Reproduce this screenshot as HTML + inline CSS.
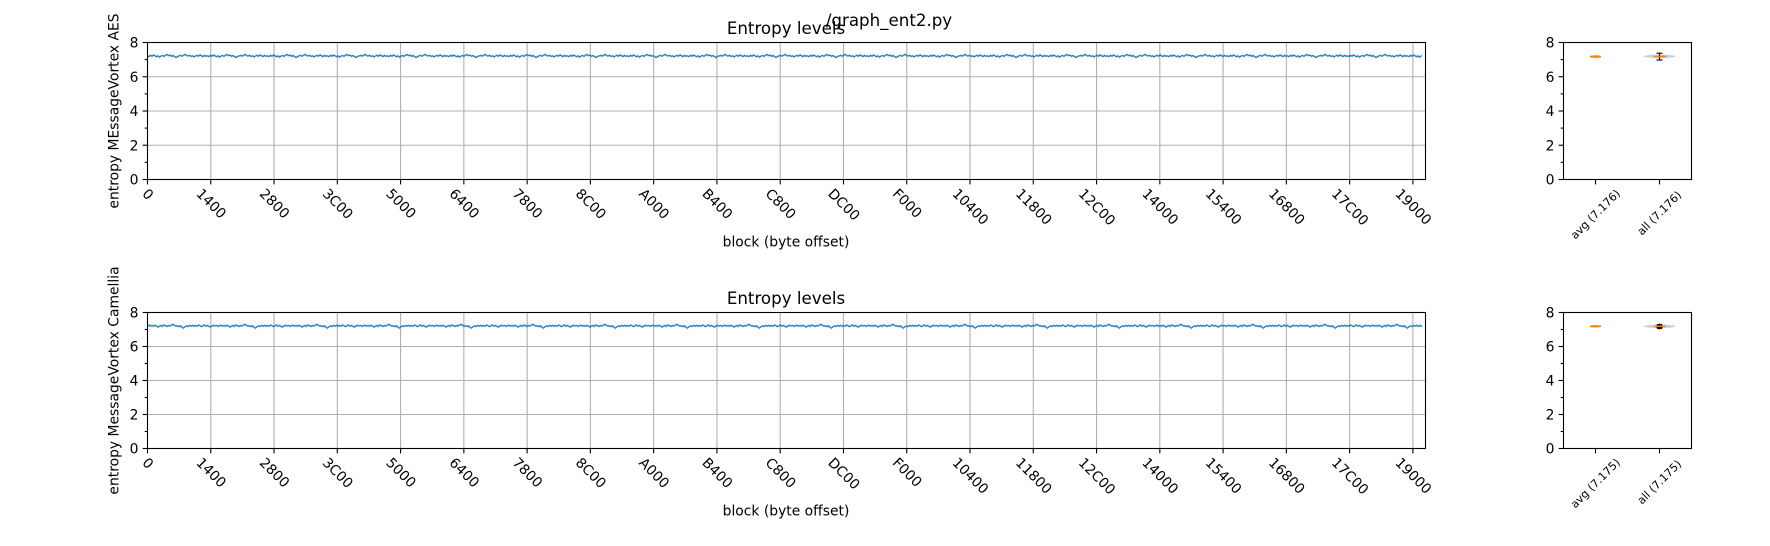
<!DOCTYPE html>
<html>
<head>
<meta charset="utf-8">
<style>
html,body{margin:0;padding:0;background:#fff;}
svg{display:block;}
text{font-family:"DejaVu Sans","Liberation Sans",sans-serif;fill:#000;}
.t{font-size:13.89px;}
.s{font-size:11.11px;}
.h{font-size:16.67px;}
.grid{stroke:#b0b0b0;stroke-width:1.1;}
.sp{stroke:#000;stroke-width:1.1;fill:none;}
.tk{stroke:#000;stroke-width:1.1;}
</style>
</head>
<body>
<svg width="1770" height="546" viewBox="0 0 1770 546" xmlns="http://www.w3.org/2000/svg">
<defs>
  <pattern id="n1" patternUnits="userSpaceOnUse" x="147.5" y="47.8" width="60" height="16">
    <path d="M-1.5,8.5 L0,8 L1.5,8.8 L3,7.6 L4.5,8.4 L6,7.2 L7.5,8 L9,8.9 L10.5,8.1 L12,9.4 L13.5,8.3 L15,7.7 L16.5,8.6 L18,7.4 L19.5,6.8 L21,7.9 L22.5,7.3 L24,8.5 L25.5,7.8 L27,8.7 L28.5,9.8 L30,8.6 L31.5,8.2 L33,7.5 L34.5,8.4 L36,7.6 L37.5,6.6 L39,7.7 L40.5,8.3 L42,7.4 L43.5,8.6 L45,8 L46.5,9.1 L48,8.2 L49.5,7.5 L51,8.4 L52.5,7.1 L54,7.9 L55.5,8.8 L57,7.6 L58.5,8.5 L60,8 L61.5,8.8" fill="none" stroke="#1f77b4" stroke-width="1.35"/>
  </pattern>
  <pattern id="n2" patternUnits="userSpaceOnUse" x="147.5" y="47.8" width="72" height="16">
    <path d="M-1.5,7.4 L0,8 L1.5,7.3 L3,8.5 L4.5,7.7 L6,8.6 L7.5,7.5 L9,8.2 L10.5,9.3 L12,8.4 L13.5,7.6 L15,8.5 L16.5,7.2 L18,7.9 L19.5,8.7 L21,7.8 L22.5,8.3 L24,7.1 L25.5,6.5 L27,7.6 L28.5,8.4 L30,7.9 L31.5,8.8 L33,8 L34.5,9.6 L36,10.2 L37.5,8.9 L39,8.1 L40.5,8.7 L42,7.6 L43.5,8.3 L45,7.4 L46.5,8.6 L48,7.7 L49.5,8.5 L51,7.3 L52.5,7.9 L54,8.8 L55.5,8 L57,7.2 L58.5,8.4 L60,7.7 L61.5,8.6 L63,9.2 L64.5,8.1 L66,7.5 L67.5,8.3 L69,7.6 L70.5,8.5 L72,8 L73.5,7.3" fill="none" stroke="#1f77b4" stroke-width="1.35"/>
  </pattern>
</defs>

<!-- suptitle -->
<text class="h" x="889" y="26" text-anchor="middle">/graph_ent2.py</text>

<!-- ===================== TOP ROW ===================== -->
<g id="top">
  <text class="h" x="786" y="34" text-anchor="middle">Entropy levels</text>
  <g class="grid">
    <line x1="147.5" y1="76.75" x2="1425.5" y2="76.75"/>
    <line x1="147.5" y1="111" x2="1425.5" y2="111"/>
    <line x1="147.5" y1="145.25" x2="1425.5" y2="145.25"/>
    <line x1="210.77" y1="42.5" x2="210.77" y2="179.5"/>
    <line x1="274.04" y1="42.5" x2="274.04" y2="179.5"/>
    <line x1="337.31" y1="42.5" x2="337.31" y2="179.5"/>
    <line x1="400.58" y1="42.5" x2="400.58" y2="179.5"/>
    <line x1="463.85" y1="42.5" x2="463.85" y2="179.5"/>
    <line x1="527.12" y1="42.5" x2="527.12" y2="179.5"/>
    <line x1="590.39" y1="42.5" x2="590.39" y2="179.5"/>
    <line x1="653.66" y1="42.5" x2="653.66" y2="179.5"/>
    <line x1="716.93" y1="42.5" x2="716.93" y2="179.5"/>
    <line x1="780.2" y1="42.5" x2="780.2" y2="179.5"/>
    <line x1="843.47" y1="42.5" x2="843.47" y2="179.5"/>
    <line x1="906.74" y1="42.5" x2="906.74" y2="179.5"/>
    <line x1="970.01" y1="42.5" x2="970.01" y2="179.5"/>
    <line x1="1033.28" y1="42.5" x2="1033.28" y2="179.5"/>
    <line x1="1096.55" y1="42.5" x2="1096.55" y2="179.5"/>
    <line x1="1159.82" y1="42.5" x2="1159.82" y2="179.5"/>
    <line x1="1223.09" y1="42.5" x2="1223.09" y2="179.5"/>
    <line x1="1286.36" y1="42.5" x2="1286.36" y2="179.5"/>
    <line x1="1349.63" y1="42.5" x2="1349.63" y2="179.5"/>
    <line x1="1412.9" y1="42.5" x2="1412.9" y2="179.5"/>
  </g>
  <rect x="147.5" y="47.8" width="1274.5" height="16" fill="url(#n1)"/>
  <rect class="sp" x="147.5" y="42.5" width="1278" height="137"/>
  <g class="tk">
    <line x1="142.6" y1="42.5" x2="147.5" y2="42.5"/>
    <line x1="142.6" y1="76.75" x2="147.5" y2="76.75"/>
    <line x1="142.6" y1="111" x2="147.5" y2="111"/>
    <line x1="142.6" y1="145.25" x2="147.5" y2="145.25"/>
    <line x1="142.6" y1="179.5" x2="147.5" y2="179.5"/>
    <line x1="144.7" y1="59.6" x2="147.5" y2="59.6"/>
    <line x1="144.7" y1="93.9" x2="147.5" y2="93.9"/>
    <line x1="144.7" y1="128.1" x2="147.5" y2="128.1"/>
    <line x1="144.7" y1="162.4" x2="147.5" y2="162.4"/>
  </g>
  <g class="t" text-anchor="end" dominant-baseline="central">
    <text x="138.5" y="43.6">8</text>
    <text x="138.5" y="77.85">6</text>
    <text x="138.5" y="112.1">4</text>
    <text x="138.5" y="146.35">2</text>
    <text x="138.5" y="180.6">0</text>
  </g>
  <g class="tk">
    <line x1="147.5" y1="179.5" x2="147.5" y2="184.4"/>
    <line x1="210.77" y1="179.5" x2="210.77" y2="184.4"/>
    <line x1="274.04" y1="179.5" x2="274.04" y2="184.4"/>
    <line x1="337.31" y1="179.5" x2="337.31" y2="184.4"/>
    <line x1="400.58" y1="179.5" x2="400.58" y2="184.4"/>
    <line x1="463.85" y1="179.5" x2="463.85" y2="184.4"/>
    <line x1="527.12" y1="179.5" x2="527.12" y2="184.4"/>
    <line x1="590.39" y1="179.5" x2="590.39" y2="184.4"/>
    <line x1="653.66" y1="179.5" x2="653.66" y2="184.4"/>
    <line x1="716.93" y1="179.5" x2="716.93" y2="184.4"/>
    <line x1="780.2" y1="179.5" x2="780.2" y2="184.4"/>
    <line x1="843.47" y1="179.5" x2="843.47" y2="184.4"/>
    <line x1="906.74" y1="179.5" x2="906.74" y2="184.4"/>
    <line x1="970.01" y1="179.5" x2="970.01" y2="184.4"/>
    <line x1="1033.28" y1="179.5" x2="1033.28" y2="184.4"/>
    <line x1="1096.55" y1="179.5" x2="1096.55" y2="184.4"/>
    <line x1="1159.82" y1="179.5" x2="1159.82" y2="184.4"/>
    <line x1="1223.09" y1="179.5" x2="1223.09" y2="184.4"/>
    <line x1="1286.36" y1="179.5" x2="1286.36" y2="184.4"/>
    <line x1="1349.63" y1="179.5" x2="1349.63" y2="184.4"/>
    <line x1="1412.9" y1="179.5" x2="1412.9" y2="184.4"/>
  </g>
  <g class="t" text-anchor="middle" dominant-baseline="central">
    <text transform="translate(147.5,194.8) rotate(45)">0</text>
    <text transform="translate(210.77,204.1) rotate(45)">1400</text>
    <text transform="translate(274.04,204.1) rotate(45)">2800</text>
    <text transform="translate(337.31,204.4) rotate(45)">3C00</text>
    <text transform="translate(400.58,204.1) rotate(45)">5000</text>
    <text transform="translate(463.85,204.1) rotate(45)">6400</text>
    <text transform="translate(527.12,204.1) rotate(45)">7800</text>
    <text transform="translate(590.39,204.4) rotate(45)">8C00</text>
    <text transform="translate(653.66,204.4) rotate(45)">A000</text>
    <text transform="translate(716.93,204.4) rotate(45)">B400</text>
    <text transform="translate(780.2,204.4) rotate(45)">C800</text>
    <text transform="translate(843.47,205.1) rotate(45)">DC00</text>
    <text transform="translate(906.74,203.8) rotate(45)">F000</text>
    <text transform="translate(970.01,207.3) rotate(45)">10400</text>
    <text transform="translate(1033.28,207.3) rotate(45)">11800</text>
    <text transform="translate(1096.55,207.6) rotate(45)">12C00</text>
    <text transform="translate(1159.82,207.3) rotate(45)">14000</text>
    <text transform="translate(1223.09,207.3) rotate(45)">15400</text>
    <text transform="translate(1286.36,207.3) rotate(45)">16800</text>
    <text transform="translate(1349.63,207.6) rotate(45)">17C00</text>
    <text transform="translate(1412.9,207.3) rotate(45)">19000</text>
  </g>
  <text class="t" x="786" y="246.5" text-anchor="middle">block (byte offset)</text>
  <text class="t" transform="translate(118.5,111) rotate(-90)" text-anchor="middle">entropy MEssageVortex AES</text>

  <rect class="sp" x="1563.5" y="42.5" width="128" height="137"/>
  <g class="tk">
    <line x1="1558.6" y1="42.5" x2="1563.5" y2="42.5"/>
    <line x1="1558.6" y1="76.75" x2="1563.5" y2="76.75"/>
    <line x1="1558.6" y1="111" x2="1563.5" y2="111"/>
    <line x1="1558.6" y1="145.25" x2="1563.5" y2="145.25"/>
    <line x1="1558.6" y1="179.5" x2="1563.5" y2="179.5"/>
    <line x1="1560.7" y1="59.6" x2="1563.5" y2="59.6"/>
    <line x1="1560.7" y1="93.9" x2="1563.5" y2="93.9"/>
    <line x1="1560.7" y1="128.1" x2="1563.5" y2="128.1"/>
    <line x1="1560.7" y1="162.4" x2="1563.5" y2="162.4"/>
    <line x1="1595.5" y1="179.5" x2="1595.5" y2="184.4"/>
    <line x1="1659.5" y1="179.5" x2="1659.5" y2="184.4"/>
  </g>
  <g class="t" text-anchor="end" dominant-baseline="central">
    <text x="1554.5" y="43.6">8</text>
    <text x="1554.5" y="77.85">6</text>
    <text x="1554.5" y="112.1">4</text>
    <text x="1554.5" y="146.35">2</text>
    <text x="1554.5" y="180.6">0</text>
  </g>
  <g class="s" text-anchor="middle" dominant-baseline="central">
    <text transform="translate(1595.5,214.5) rotate(-45)">avg (7.176)</text>
    <text transform="translate(1659.5,213.3) rotate(-45)">all (7.176)</text>
  </g>
  <ellipse cx="1595.5" cy="56.6" rx="5.5" ry="1.6" fill="#c9a98a" opacity="0.8"/>
  <line x1="1590" y1="56.6" x2="1601" y2="56.6" stroke="#ff7f0e" stroke-width="1.6"/>
  <ellipse cx="1659.5" cy="56.4" rx="16" ry="1.8" fill="#1f77b4" opacity="0.3"/>
  <g stroke="#000" stroke-width="1.1">
    <line x1="1659.5" y1="53.2" x2="1659.5" y2="60"/>
    <line x1="1656.5" y1="53.2" x2="1662.5" y2="53.2"/>
    <line x1="1656.5" y1="60" x2="1662.5" y2="60"/>
  </g>
  <line x1="1654" y1="56.4" x2="1666" y2="56.4" stroke="#ff7f0e" stroke-width="1.6"/>
</g>

<!-- ===================== BOTTOM ROW ===================== -->
<g id="bottom" transform="translate(0,270)">
  <text class="h" x="786" y="34" text-anchor="middle">Entropy levels</text>
  <g class="grid">
    <line x1="147.5" y1="76.5" x2="1425.5" y2="76.5"/>
    <line x1="147.5" y1="110.5" x2="1425.5" y2="110.5"/>
    <line x1="147.5" y1="144.5" x2="1425.5" y2="144.5"/>
    <line x1="210.77" y1="42.5" x2="210.77" y2="178.5"/>
    <line x1="274.04" y1="42.5" x2="274.04" y2="178.5"/>
    <line x1="337.31" y1="42.5" x2="337.31" y2="178.5"/>
    <line x1="400.58" y1="42.5" x2="400.58" y2="178.5"/>
    <line x1="463.85" y1="42.5" x2="463.85" y2="178.5"/>
    <line x1="527.12" y1="42.5" x2="527.12" y2="178.5"/>
    <line x1="590.39" y1="42.5" x2="590.39" y2="178.5"/>
    <line x1="653.66" y1="42.5" x2="653.66" y2="178.5"/>
    <line x1="716.93" y1="42.5" x2="716.93" y2="178.5"/>
    <line x1="780.2" y1="42.5" x2="780.2" y2="178.5"/>
    <line x1="843.47" y1="42.5" x2="843.47" y2="178.5"/>
    <line x1="906.74" y1="42.5" x2="906.74" y2="178.5"/>
    <line x1="970.01" y1="42.5" x2="970.01" y2="178.5"/>
    <line x1="1033.28" y1="42.5" x2="1033.28" y2="178.5"/>
    <line x1="1096.55" y1="42.5" x2="1096.55" y2="178.5"/>
    <line x1="1159.82" y1="42.5" x2="1159.82" y2="178.5"/>
    <line x1="1223.09" y1="42.5" x2="1223.09" y2="178.5"/>
    <line x1="1286.36" y1="42.5" x2="1286.36" y2="178.5"/>
    <line x1="1349.63" y1="42.5" x2="1349.63" y2="178.5"/>
    <line x1="1412.9" y1="42.5" x2="1412.9" y2="178.5"/>
  </g>
  <rect x="147.5" y="47.8" width="1274.5" height="16" fill="url(#n2)"/>
  <rect class="sp" x="147.5" y="42.5" width="1278" height="136"/>
  <g class="tk">
    <line x1="142.6" y1="42.5" x2="147.5" y2="42.5"/>
    <line x1="142.6" y1="76.5" x2="147.5" y2="76.5"/>
    <line x1="142.6" y1="110.5" x2="147.5" y2="110.5"/>
    <line x1="142.6" y1="144.5" x2="147.5" y2="144.5"/>
    <line x1="142.6" y1="178.5" x2="147.5" y2="178.5"/>
    <line x1="144.7" y1="59.5" x2="147.5" y2="59.5"/>
    <line x1="144.7" y1="93.5" x2="147.5" y2="93.5"/>
    <line x1="144.7" y1="127.5" x2="147.5" y2="127.5"/>
    <line x1="144.7" y1="161.5" x2="147.5" y2="161.5"/>
  </g>
  <g class="t" text-anchor="end" dominant-baseline="central">
    <text x="138.5" y="43.6">8</text>
    <text x="138.5" y="77.6">6</text>
    <text x="138.5" y="111.6">4</text>
    <text x="138.5" y="145.6">2</text>
    <text x="138.5" y="179.6">0</text>
  </g>
  <g class="tk">
    <line x1="147.5" y1="178.5" x2="147.5" y2="183.4"/>
    <line x1="210.77" y1="178.5" x2="210.77" y2="183.4"/>
    <line x1="274.04" y1="178.5" x2="274.04" y2="183.4"/>
    <line x1="337.31" y1="178.5" x2="337.31" y2="183.4"/>
    <line x1="400.58" y1="178.5" x2="400.58" y2="183.4"/>
    <line x1="463.85" y1="178.5" x2="463.85" y2="183.4"/>
    <line x1="527.12" y1="178.5" x2="527.12" y2="183.4"/>
    <line x1="590.39" y1="178.5" x2="590.39" y2="183.4"/>
    <line x1="653.66" y1="178.5" x2="653.66" y2="183.4"/>
    <line x1="716.93" y1="178.5" x2="716.93" y2="183.4"/>
    <line x1="780.2" y1="178.5" x2="780.2" y2="183.4"/>
    <line x1="843.47" y1="178.5" x2="843.47" y2="183.4"/>
    <line x1="906.74" y1="178.5" x2="906.74" y2="183.4"/>
    <line x1="970.01" y1="178.5" x2="970.01" y2="183.4"/>
    <line x1="1033.28" y1="178.5" x2="1033.28" y2="183.4"/>
    <line x1="1096.55" y1="178.5" x2="1096.55" y2="183.4"/>
    <line x1="1159.82" y1="178.5" x2="1159.82" y2="183.4"/>
    <line x1="1223.09" y1="178.5" x2="1223.09" y2="183.4"/>
    <line x1="1286.36" y1="178.5" x2="1286.36" y2="183.4"/>
    <line x1="1349.63" y1="178.5" x2="1349.63" y2="183.4"/>
    <line x1="1412.9" y1="178.5" x2="1412.9" y2="183.4"/>
  </g>
  <g class="t" text-anchor="middle" dominant-baseline="central">
    <text transform="translate(147.5,193.8) rotate(45)">0</text>
    <text transform="translate(210.77,203.1) rotate(45)">1400</text>
    <text transform="translate(274.04,203.1) rotate(45)">2800</text>
    <text transform="translate(337.31,203.4) rotate(45)">3C00</text>
    <text transform="translate(400.58,203.1) rotate(45)">5000</text>
    <text transform="translate(463.85,203.1) rotate(45)">6400</text>
    <text transform="translate(527.12,203.1) rotate(45)">7800</text>
    <text transform="translate(590.39,203.4) rotate(45)">8C00</text>
    <text transform="translate(653.66,203.4) rotate(45)">A000</text>
    <text transform="translate(716.93,203.4) rotate(45)">B400</text>
    <text transform="translate(780.2,203.4) rotate(45)">C800</text>
    <text transform="translate(843.47,204.1) rotate(45)">DC00</text>
    <text transform="translate(906.74,202.8) rotate(45)">F000</text>
    <text transform="translate(970.01,206.3) rotate(45)">10400</text>
    <text transform="translate(1033.28,206.3) rotate(45)">11800</text>
    <text transform="translate(1096.55,206.6) rotate(45)">12C00</text>
    <text transform="translate(1159.82,206.3) rotate(45)">14000</text>
    <text transform="translate(1223.09,206.3) rotate(45)">15400</text>
    <text transform="translate(1286.36,206.3) rotate(45)">16800</text>
    <text transform="translate(1349.63,206.6) rotate(45)">17C00</text>
    <text transform="translate(1412.9,206.3) rotate(45)">19000</text>
  </g>
  <text class="t" x="786" y="245.5" text-anchor="middle">block (byte offset)</text>
  <text class="t" transform="translate(118.5,110.5) rotate(-90)" text-anchor="middle">entropy MessageVortex Camellia</text>

  <rect class="sp" x="1563.5" y="42.5" width="128" height="136"/>
  <g class="tk">
    <line x1="1558.6" y1="42.5" x2="1563.5" y2="42.5"/>
    <line x1="1558.6" y1="76.5" x2="1563.5" y2="76.5"/>
    <line x1="1558.6" y1="110.5" x2="1563.5" y2="110.5"/>
    <line x1="1558.6" y1="144.5" x2="1563.5" y2="144.5"/>
    <line x1="1558.6" y1="178.5" x2="1563.5" y2="178.5"/>
    <line x1="1560.7" y1="59.5" x2="1563.5" y2="59.5"/>
    <line x1="1560.7" y1="93.5" x2="1563.5" y2="93.5"/>
    <line x1="1560.7" y1="127.5" x2="1563.5" y2="127.5"/>
    <line x1="1560.7" y1="161.5" x2="1563.5" y2="161.5"/>
    <line x1="1595.5" y1="178.5" x2="1595.5" y2="183.4"/>
    <line x1="1659.5" y1="178.5" x2="1659.5" y2="183.4"/>
  </g>
  <g class="t" text-anchor="end" dominant-baseline="central">
    <text x="1554.5" y="43.6">8</text>
    <text x="1554.5" y="77.6">6</text>
    <text x="1554.5" y="111.6">4</text>
    <text x="1554.5" y="145.6">2</text>
    <text x="1554.5" y="179.6">0</text>
  </g>
  <g class="s" text-anchor="middle" dominant-baseline="central">
    <text transform="translate(1595.5,213.5) rotate(-45)">avg (7.175)</text>
    <text transform="translate(1659.5,212.3) rotate(-45)">all (7.175)</text>
  </g>
  <ellipse cx="1595.5" cy="56.3" rx="5.5" ry="1.4" fill="#d9a070" opacity="0.8"/>
  <line x1="1590" y1="56.3" x2="1601" y2="56.3" stroke="#ff7f0e" stroke-width="1.6"/>
  <ellipse cx="1659.5" cy="56.3" rx="16" ry="1.8" fill="#1f77b4" opacity="0.3"/>
  <g stroke="#000">
    <rect x="1656.5" y="54" width="6" height="5" fill="#000" stroke="none" rx="1.5"/>
    <line x1="1659.5" y1="53.5" x2="1659.5" y2="59.5" stroke-width="1.1"/>
  </g>
  <line x1="1654" y1="56.3" x2="1665.5" y2="56.3" stroke="#ff7f0e" stroke-width="1.6"/>
</g>
</svg>
</body>
</html>
